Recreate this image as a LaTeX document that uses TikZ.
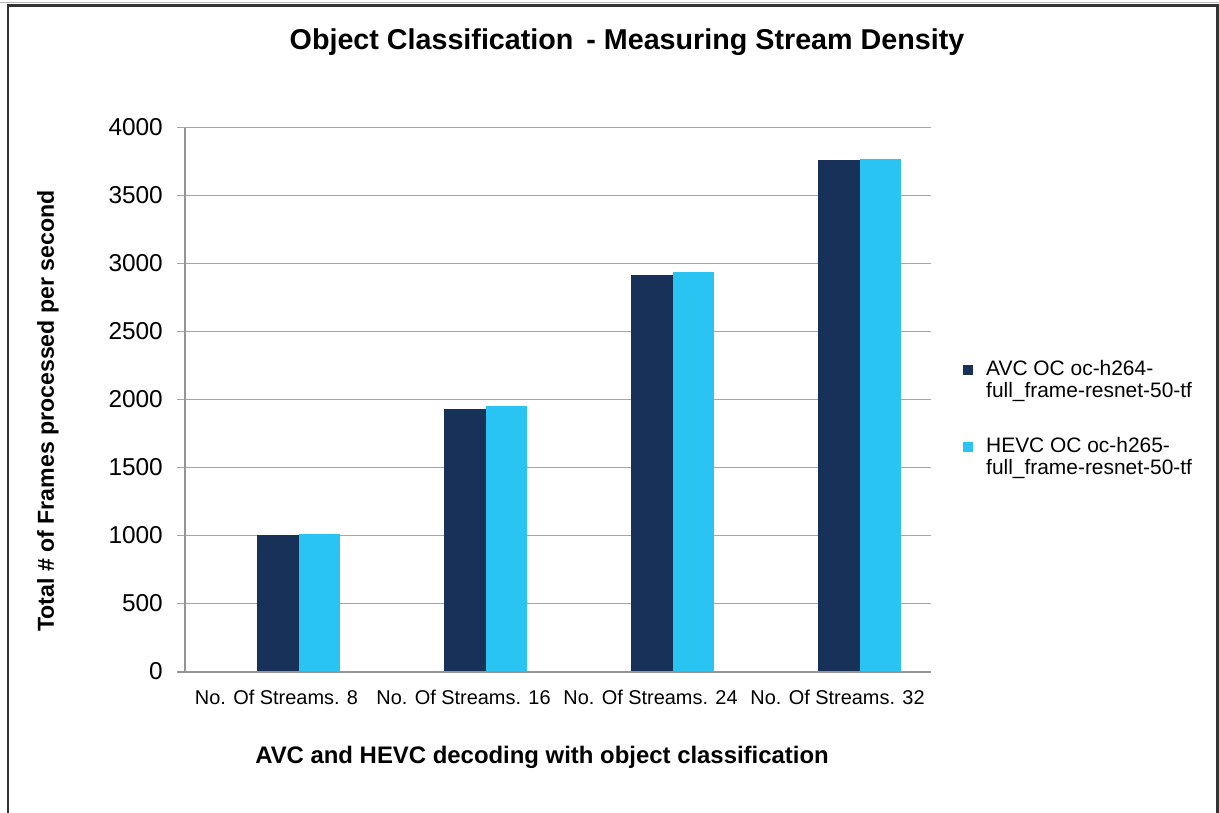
\documentclass[tikz,border=0pt]{standalone}
\usepackage{fontspec}
\setmainfont{Liberation Sans}
\usepackage{xcolor}
\usepackage{tikz}

\definecolor{avcnavy}{HTML}{183158}
\definecolor{hevccyan}{HTML}{29C4F2}
\definecolor{gridgray}{HTML}{A6A6A6}

\begin{document}
\begin{tikzpicture}[x=1bp, y=-1bp,
        grid line/.style={draw=gridgray, line width=1.5bp},
        axis line/.style={draw=gridgray!90!black, line width=2bp},
        avc bar/.style={fill=avcnavy},
        hevc bar/.style={fill=hevccyan},
        tick label/.style={anchor=east, inner sep=0pt, font=\fontsize{24.5}{28}\selectfont},
        cat label/.style={inner sep=0pt, font=\fontsize{20}{24}\selectfont},
        legend text/.style={anchor=west, align=left, inner sep=0pt, font=\fontsize{21}{22.5}\selectfont}]
        \useasboundingbox (0,0) rectangle (1219,813);
        \fill[white] (0,0) rectangle (1219,813);

        % Frame
        \draw[gray!55, line width=1.5bp] (0,2.5) -- (1219,2.5);
        \draw[black!80, line width=2.5bp] (8,813) -- (8,5.5) -- (1217.5,5.5) -- (1217.5,813);

        % Title
        \draw (627,42) node[font=\bfseries\fontsize{28.8}{34}\selectfont] (title) {Object Classification\hspace{0.45em}- Measuring Stream Density};

        % Grid and value labels
        \foreach \v in {500,1000,...,4000}
            \draw[grid line] (177,{671.5-0.136*\v}) -- (931,{671.5-0.136*\v});
        \foreach \v in {0,500,...,4000}
            \draw (163,{671.5-0.136*\v}) node[tick label] (t\v) {\v};

        % Bars
        \foreach \i/\a/\h in {0/1005/1012, 1/1930/1950, 2/2915/2940, 3/3760/3772} {
            \fill[avc bar] ({257+187*\i},671.5) rectangle ({298.5+187*\i},{671.5-0.136*\a});
            \fill[hevc bar] ({298.5+187*\i},671.5) rectangle ({340+187*\i},{671.5-0.136*\h});
        }

        % Axes
        \draw[axis line] (177,671.5) -- (931,671.5);
        \draw[axis line] (185,127.5) -- (185,671.5);

        % Category labels
        \foreach \i/\n in {0/8, 1/16, 2/24, 3/32}
            \draw ({276.5+187*\i},697) node[cat label] (cat\n) {No. Of Streams. \n};

        % Axis titles
        \draw (48,411) node[rotate=90, font=\bfseries\fontsize{23.2}{27}\selectfont] (ytitle) {Total \# of Frames processed per second};
        \draw (542,757) node[font=\bfseries\fontsize{24}{28}\selectfont] (xtitle) {AVC and HEVC decoding with object classification};

        % Legend
        \fill[avcnavy] (963,365) rectangle (973,375);
        \draw (986,381) node[legend text] (legavc) {AVC OC oc-h264-\\full\_frame-resnet-50-tf};
        \fill[hevccyan] (963,442) rectangle (973,452);
        \draw (986,458) node[legend text] (leghevc) {HEVC OC oc-h265-\\full\_frame-resnet-50-tf};
    \end{tikzpicture}
\end{document}
